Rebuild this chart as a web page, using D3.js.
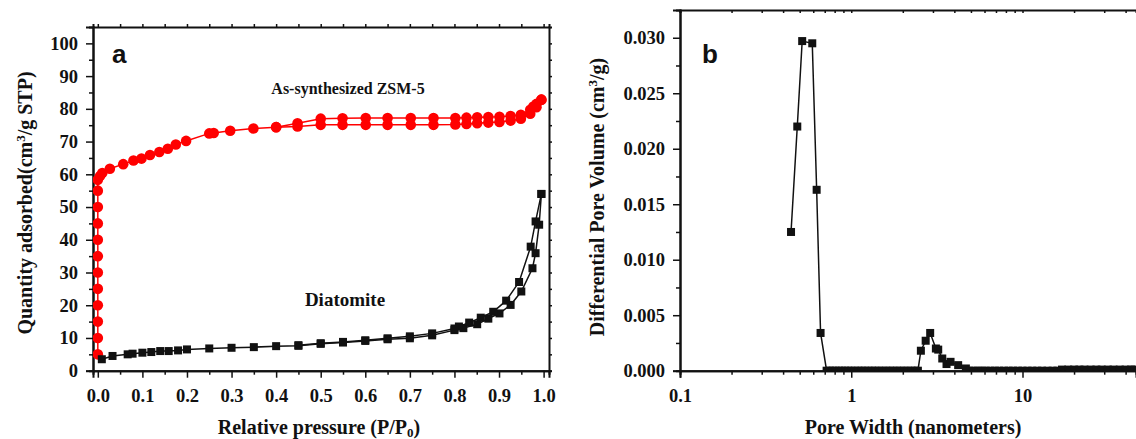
<!DOCTYPE html>
<html>
<head>
<meta charset="utf-8">
<script src="https://cdn.jsdelivr.net/npm/d3@7"></script>
<style>
  body { margin: 0; background: #fff; }
  svg text { font-family: "Liberation Serif", "Times New Roman", serif; font-weight: bold; fill: #111; }
</style>
</head>
<body>
<svg id="chart" width="1136" height="439"></svg>
<script>
// ---- panel a: N2 isotherms ----
var zsmAdsX = [0, 0, 0, 0, 0, 0, 0, 0, 0, 0, 0, 0, 0.005, 0.01, 0.027, 0.057, 0.08, 0.098, 0.117, 0.138, 0.157, 0.175, 0.198, 0.25, 0.26, 0.297, 0.349, 0.40, 0.448, 0.5, 0.549, 0.601, 0.65, 0.702, 0.753, 0.802, 0.827, 0.851, 0.876, 0.901, 0.926, 0.949, 0.97, 0.984, 0.995];
var zsmAdsY = [5, 10, 15, 20, 25, 30, 35, 40, 45, 50, 55, 58.3, 59.5, 60.4, 61.7, 63.1, 64.2, 64.8, 65.9, 66.8, 67.8, 69.1, 70.2, 72.5, 72.6, 73.3, 74.0, 74.4, 74.6, 75.1, 75.1, 75.1, 75.1, 75.1, 75.1, 75.2, 75.4, 75.6, 75.8, 76.0, 76.4, 77.0, 78.5, 80.5, 82.8];
var zsmDesX = [0.995, 0.984, 0.977, 0.97, 0.949, 0.926, 0.901, 0.876, 0.851, 0.827, 0.802, 0.753, 0.702, 0.65, 0.601, 0.549, 0.5, 0.448, 0.40];
var zsmDesY = [82.8, 81.5, 80.7, 79.7, 78.2, 77.8, 77.6, 77.5, 77.4, 77.3, 77.2, 77.2, 77.2, 77.2, 77.2, 77.1, 77.0, 75.6, 74.4];

var diaAdsX = [0.009, 0.033, 0.067, 0.078, 0.1, 0.12, 0.14, 0.159, 0.18, 0.2, 0.25, 0.3, 0.35, 0.4, 0.45, 0.5, 0.55, 0.6, 0.65, 0.7, 0.75, 0.8, 0.82, 0.851, 0.876, 0.901, 0.926, 0.95, 0.975, 0.982, 0.99, 0.995];
var diaAdsY = [3.5, 4.5, 5.0, 5.2, 5.5, 5.7, 6.0, 6.0, 6.2, 6.5, 6.8, 7.0, 7.2, 7.5, 7.6, 8.2, 8.6, 9.1, 9.6, 9.9, 10.8, 12.4, 13.0, 14.2, 15.9, 17.5, 20.1, 24.2, 31.3, 35.9, 44.6, 54.0];
var diaDesX = [0.995, 0.982, 0.971, 0.945, 0.916, 0.887, 0.859, 0.833, 0.81, 0.8, 0.75, 0.7, 0.65, 0.6, 0.55, 0.5, 0.45];
var diaDesY = [54.0, 45.6, 37.9, 27.1, 21.4, 18.0, 16.2, 14.7, 13.5, 12.9, 11.4, 10.5, 9.9, 9.3, 8.8, 8.4, 7.8];

var aXTicks = [0, 0.1, 0.2, 0.3, 0.4, 0.5, 0.6, 0.7, 0.8, 0.9, 1.0];
var aXMinor = [0.05, 0.15, 0.25, 0.35, 0.45, 0.55, 0.65, 0.75, 0.85, 0.95];
var aYTicks = [0, 10, 20, 30, 40, 50, 60, 70, 80, 90, 100];
var aYMinor = [5, 15, 25, 35, 45, 55, 65, 75, 85, 95];

// ---- panel b: pore size distribution ----
var poreW = [0.445, 0.484, 0.517, 0.592, 0.628, 0.662, 0.718, 0.75, 0.78, 0.81, 0.85, 0.88, 0.92, 0.96, 1.0, 1.05, 1.1, 1.15, 1.2, 1.26, 1.32, 1.38, 1.45, 1.52, 1.6, 1.68, 1.76, 1.85, 1.94, 2.04, 2.14, 2.25, 2.36, 2.45,
  2.55, 2.72, 2.89, 3.12, 3.22, 3.40, 3.60, 3.80, 4.21, 4.67,
  4.9, 5.2, 5.5, 5.8, 6.1, 6.5, 6.9, 7.3, 7.8, 8.3, 8.8, 9.4, 10, 10.7, 11.4, 12.2, 13, 14, 15, 16, 17, 18.5, 20, 21.5, 23, 25, 27, 29, 31.5, 34, 37, 40, 43, 45];
var poreVol = [0.0125, 0.0220, 0.0297, 0.0295, 0.0163, 0.0034, 0, 0, 0, 0, 0, 0, 0, 0, 0, 0, 0, 0, 0, 0, 0, 0, 0, 0, 0, 0, 0, 0, 0, 0, 0, 0, 0, 0,
  0.0018, 0.0027, 0.0034, 0.0020, 0.0019, 0.0011, 0.0006, 0.0008, 0.0005, 0.0002,
  0, 0, 0, 0, 0, 0, 0, 0, 0, 0, 0, 0, 0, 0, 0, 0, 0, 0, 0, 0, 0.0001, 0.0001, 0.0001, 0.0001, 0.0001, 0.0001, 0.0001, 0.0001, 0.0001, 0.0001, 0.0001, 0.0001, 0.0001, 0.0001];

var bYTicks = [0, 0.005, 0.010, 0.015, 0.020, 0.025, 0.030];
var bYMinor = [0.0025, 0.0075, 0.0125, 0.0175, 0.0225, 0.0275];
var bXTicks = [0.1, 1, 10];
var bXMinor = [0.2, 0.3, 0.4, 0.5, 0.6, 0.7, 0.8, 0.9, 2, 3, 4, 5, 6, 7, 8, 9, 20, 30, 40];

var tickFont = 18.5, titleFont = 20;

var svg = d3.select("#chart");

function zip(xs, ys) {
  return xs.map(function(d, i) { return [d, ys[i]]; });
}

function styleAxis(g, size) {
  g.select(".domain").attr("stroke", "#111").attr("stroke-width", 2);
  g.selectAll(".tick line").attr("stroke", "#111").attr("stroke-width", 1.5);
  g.selectAll("text").style("font-size", size + "px").attr("fill", "#111");
}

// ================= panel a =================
var xa = d3.scaleLinear().domain([-0.0108, 1.0121]).range([93, 549]);
var ya = d3.scaleLinear().domain([0, 105]).range([370.7, 27]);

svg.append("clipPath").attr("id", "clipA").append("rect")
  .attr("x", 93).attr("y", 27).attr("width", 456).attr("height", 343.7);

var gA = svg.append("g");

gA.append("g").attr("transform", "translate(0,370.7)")
  .call(d3.axisBottom(xa).tickValues(aXMinor).tickSize(4).tickFormat(""))
  .call(function(g) { styleAxis(g, tickFont); });
gA.append("g").attr("transform", "translate(0,370.7)")
  .call(d3.axisBottom(xa).tickValues(aXTicks).tickSize(7).tickPadding(11).tickFormat(d3.format(".1f")))
  .call(function(g) { styleAxis(g, tickFont); });
gA.append("g").attr("transform", "translate(0,27)")
  .call(d3.axisTop(xa).tickValues(aXTicks.concat(aXMinor)).tickSize(3).tickFormat(""))
  .call(function(g) { styleAxis(g, tickFont); });

gA.append("g").attr("transform", "translate(93,0)")
  .call(d3.axisLeft(ya).tickValues(aYMinor).tickSize(4).tickFormat(""))
  .call(function(g) { styleAxis(g, tickFont); });
gA.append("g").attr("transform", "translate(93,0)")
  .call(d3.axisLeft(ya).tickValues(aYTicks).tickSize(7).tickPadding(8))
  .call(function(g) { styleAxis(g, tickFont); });
gA.append("g").attr("transform", "translate(549,0)")
  .call(d3.axisRight(ya).tickValues(aYTicks.concat(aYMinor)).tickSize(3).tickFormat(""))
  .call(function(g) { styleAxis(g, tickFont); });

var lineA = d3.line().x(function(d) { return xa(d[0]); }).y(function(d) { return ya(d[1]); });
var plotA = gA.append("g").attr("clip-path", "url(#clipA)");

[zip(zsmAdsX, zsmAdsY), zip(zsmDesX, zsmDesY)].forEach(function(data) {
  plotA.append("path").datum(data).attr("d", lineA)
    .attr("fill", "none").attr("stroke", "#ff0000").attr("stroke-width", 1.5);
  plotA.selectAll(null).data(data).enter().append("circle")
    .attr("cx", function(d) { return xa(d[0]); })
    .attr("cy", function(d) { return ya(d[1]); })
    .attr("r", 5.3).attr("fill", "#ff0000");
});

[zip(diaAdsX, diaAdsY), zip(diaDesX, diaDesY)].forEach(function(data) {
  plotA.append("path").datum(data).attr("d", lineA)
    .attr("fill", "none").attr("stroke", "#111").attr("stroke-width", 1.5);
  plotA.selectAll(null).data(data).enter().append("rect")
    .attr("x", function(d) { return xa(d[0]) - 4; })
    .attr("y", function(d) { return ya(d[1]) - 4; })
    .attr("width", 8).attr("height", 8).attr("fill", "#111");
});

gA.append("text").attr("x", 112).attr("y", 63)
  .style("font-family", "'Liberation Sans', Arial, sans-serif").style("font-size", "26px").text("a");
gA.append("text").attr("x", 348).attr("y", 94).attr("text-anchor", "middle")
  .style("font-size", "16px").text("As-synthesized ZSM-5");
gA.append("text").attr("x", 345).attr("y", 306).attr("text-anchor", "middle")
  .style("font-size", "19px").text("Diatomite");

var xtA = gA.append("text").attr("x", 319).attr("y", 434).attr("text-anchor", "middle").style("font-size", titleFont + "px");
xtA.append("tspan").text("Relative pressure (P/P");
xtA.append("tspan").attr("dy", 3).style("font-size", "13px").text("0");
xtA.append("tspan").attr("dy", -3).text(")");

var ytA = gA.append("text").attr("transform", "translate(32,203) rotate(-90)").attr("text-anchor", "middle").style("font-size", titleFont + "px");
ytA.append("tspan").text("Quantity adsorbed(cm");
ytA.append("tspan").attr("dy", -7).style("font-size", "13px").text("3");
ytA.append("tspan").attr("dy", 7).text("/g STP)");

// ================= panel b =================
var xb = d3.scaleLog().domain([0.1, 46]).range([680, 1136]);
var yb = d3.scaleLinear().domain([0, 0.0325]).range([370.7, 10]);

svg.append("clipPath").attr("id", "clipB").append("rect")
  .attr("x", 680).attr("y", 10).attr("width", 456).attr("height", 360.7);

var gB = svg.append("g");

gB.append("g").attr("transform", "translate(0,370.7)")
  .call(d3.axisBottom(xb).tickValues(bXMinor).tickSize(4).tickFormat(""))
  .call(function(g) { styleAxis(g, tickFont); });
gB.append("g").attr("transform", "translate(0,370.7)")
  .call(d3.axisBottom(xb).tickValues(bXTicks).tickSize(7).tickPadding(11).tickFormat(function(d) { return d < 1 ? "0.1" : d3.format("d")(d); }))
  .call(function(g) { styleAxis(g, tickFont); });
gB.append("g").attr("transform", "translate(0,10)")
  .call(d3.axisBottom(xb).tickValues(bXTicks.concat(bXMinor)).tickSize(3).tickFormat(""))
  .call(function(g) { styleAxis(g, tickFont); });

gB.append("g").attr("transform", "translate(680,0)")
  .call(d3.axisLeft(yb).tickValues(bYMinor).tickSize(4).tickFormat(""))
  .call(function(g) { styleAxis(g, tickFont); });
gB.append("g").attr("transform", "translate(680,0)")
  .call(d3.axisLeft(yb).tickValues(bYTicks).tickSize(7).tickPadding(8).tickFormat(d3.format(".3f")))
  .call(function(g) { styleAxis(g, tickFont); });

var lineB = d3.line().x(function(d) { return xb(d[0]); }).y(function(d) { return yb(d[1]); });
var plotB = gB.append("g").attr("clip-path", "url(#clipB)");
var poreData = zip(poreW, poreVol);

plotB.append("path").datum(poreData).attr("d", lineB)
  .attr("fill", "none").attr("stroke", "#111").attr("stroke-width", 1.5);
plotB.selectAll(null).data(poreData).enter().append("rect")
  .attr("x", function(d) { return xb(d[0]) - 4; })
  .attr("y", function(d) { return yb(d[1]) - 4; })
  .attr("width", 8).attr("height", 8).attr("fill", "#111");

gB.append("text").attr("x", 702).attr("y", 63)
  .style("font-family", "'Liberation Sans', Arial, sans-serif").style("font-size", "26px").text("b");

gB.append("text").attr("x", 913).attr("y", 434).attr("text-anchor", "middle")
  .style("font-size", titleFont + "px").text("Pore Width (nanometers)");

var ytB = gB.append("text").attr("transform", "translate(604,197) rotate(-90)").attr("text-anchor", "middle").style("font-size", titleFont + "px");
ytB.append("tspan").text("Differential Pore Volume (cm");
ytB.append("tspan").attr("dy", -7).style("font-size", "13px").text("3");
ytB.append("tspan").attr("dy", 7).text("/g)");
</script>
</body>
</html>
